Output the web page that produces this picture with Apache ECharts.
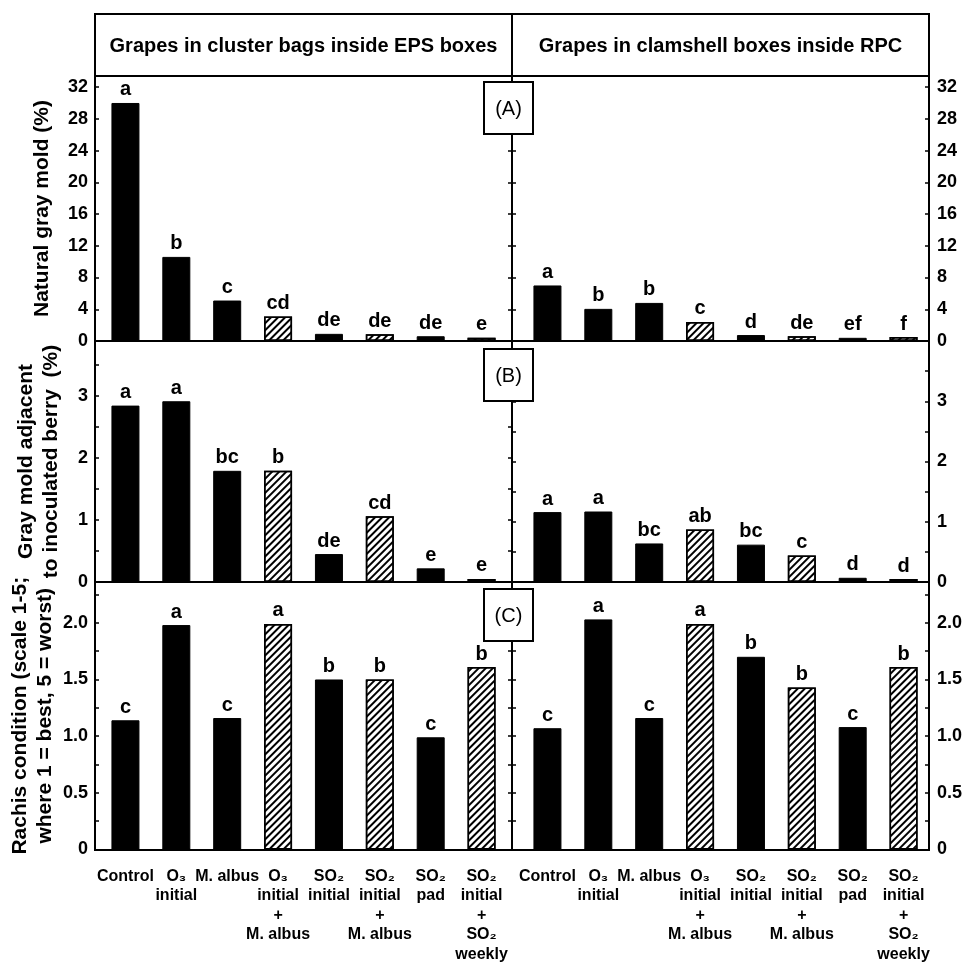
<!DOCTYPE html>
<html>
<head>
<meta charset="utf-8">
<script src="https://cdn.jsdelivr.net/npm/echarts@6/dist/echarts.min.js"></script>
<style>
html,body{margin:0;padding:0;background:#fff;}
#chart{width:969px;height:964px;}
</style>
</head>
<body>
<div id="chart"></div>
<script>
// ---------- data ----------
const categories = ['Control', 'O\u2083\ninitial', 'M. albus', 'O\u2083\ninitial\n+\nM. albus', 'SO\u2082\ninitial', 'SO\u2082\ninitial\n+\nM. albus', 'SO\u2082\npad', 'SO\u2082\ninitial\n+\nSO\u2082\nweekly'];
const hatched = [false, false, false, true, false, true, false, true];

const headerEPS = 'Grapes in cluster bags inside EPS boxes';
const headerRPC = 'Grapes in clamshell boxes inside RPC';
const panelTags = ['(A)', '(B)', '(C)'];

const moldEPS = [30.0, 10.6, 5.1, 3.1, 0.9, 0.85, 0.6, 0.4];
const moldRPC = [7.0, 4.05, 4.8, 2.4, 0.75, 0.6, 0.4, 0.5];
const moldEPSLetters = ['a', 'b', 'c', 'cd', 'de', 'de', 'de', 'e'];
const moldRPCLetters = ['a', 'b', 'b', 'c', 'd', 'de', 'ef', 'f'];

const adjEPS = [2.84, 2.91, 1.79, 1.79, 0.45, 1.06, 0.22, 0.05];
const adjRPC = [1.16, 1.17, 0.64, 0.87, 0.62, 0.44, 0.07, 0.05];
const adjEPSLetters = ['a', 'a', 'bc', 'b', 'de', 'cd', 'e', 'e'];
const adjRPCLetters = ['a', 'a', 'bc', 'ab', 'bc', 'c', 'd', 'd'];

const rachisEPS = [1.14, 1.98, 1.16, 1.99, 1.50, 1.50, 0.99, 1.61];
const rachisRPC = [1.07, 2.03, 1.16, 1.99, 1.70, 1.43, 1.08, 1.61];
const rachisEPSLetters = ['c', 'a', 'c', 'a', 'b', 'b', 'c', 'b'];
const rachisRPCLetters = ['c', 'a', 'c', 'a', 'b', 'b', 'c', 'b'];

const nameA = 'Natural gray mold (%)';
const nameB = 'Gray mold adjacent\nto inoculated berry  (%)';
const nameC = 'Rachis condition (scale 1-5;\nwhere 1 = best, 5 = worst)';

// ---------- layout ----------
const FONT = 'Liberation Sans, Arial, Helvetica, sans-serif';
const frameL = 95, frameM = 512, frameR = 929, frameT = 14, headB = 76;
const rows = [
  {top: 76, height: 265},
  {top: 341, height: 241},
  {top: 582, height: 268}
];
const leftGrid = {left: 100, width: 407};
const rightGrid = {left: 522, width: 407};

const scales = [
  {left: {max: 33.4, interval: 4}, right: {max: 33.4, interval: 4}, minor: false, fmt: v => String(v)},
  {left: {max: 3.88, interval: 1}, right: {max: 4, interval: 1}, minor: true, fmt: v => String(v)},
  {left: {max: 2.36, interval: 0.5}, right: {max: 2.36, interval: 0.5}, minor: true, fmt: v => v === 0 ? '0' : v.toFixed(1)}
];
const panelData = [
  {eps: moldEPS, rpc: moldRPC, epsL: moldEPSLetters, rpcL: moldRPCLetters, name: nameA, gap: 42, lh: 22},
  {eps: adjEPS, rpc: adjRPC, epsL: adjEPSLetters, rpcL: adjRPCLetters, name: nameB, gap: 32, lh: 24.5},
  {eps: rachisEPS, rpc: rachisRPC, epsL: rachisEPSLetters, rpcL: rachisRPCLetters, name: nameC, gap: 37, lh: 25.5}
];

const grid = [], xAxis = [], yAxis = [], series = [];

function yAx(gridIndex, sc, opts) {
  return Object.assign({
    type: 'value', gridIndex: gridIndex, min: 0, max: sc.max, interval: sc.interval,
    axisLine: {show: true, lineStyle: {color: '#000', width: 2}},
    axisTick: {show: true, inside: true, length: 4, lineStyle: {color: '#000', width: 1.5}},
    splitLine: {show: false},
    axisLabel: {show: false}
  }, opts);
}

function barData(values) {
  return values.map((v, i) => ({
    value: v,
    itemStyle: hatched[i] ? {
      color: '#fff', borderColor: '#000', borderWidth: 1.5,
      decal: {symbol: 'rect', symbolSize: 1, dashArrayX: [1, 0], dashArrayY: [2, 3], rotation: -Math.PI / 4, color: '#000'}
    } : {color: '#000', borderColor: '#000', borderWidth: 1}
  }));
}

rows.forEach((row, r) => {
  const sc = scales[r];
  const pd = panelData[r];
  const isBottom = r === rows.length - 1;
  const minorCfg = {show: sc.minor, splitNumber: 2, length: 4, lineStyle: {color: '#000', width: 1.5}};
  const labelCfg = {show: true, color: '#000', fontFamily: FONT, fontWeight: 'bold', fontSize: 18, showMaxLabel: false, formatter: sc.fmt};
  [leftGrid, rightGrid].forEach((g, side) => {
    const gi = grid.length;
    grid.push({left: g.left, top: row.top, width: g.width, height: row.height});
    xAxis.push({
      type: 'category', gridIndex: gi, data: categories, boundaryGap: true,
      axisLine: {show: true, lineStyle: {color: '#000', width: 2}},
      axisTick: {show: false},
      axisLabel: {
        show: isBottom, interval: 0, hideOverlap: false, color: '#000',
        fontFamily: FONT, fontWeight: 'bold', fontSize: 16, lineHeight: 19.5, margin: 17
      }
    });
    const s = side === 0 ? sc.left : sc.right;
    const yi = yAxis.length;
    if (side === 0) {
      yAxis.push(yAx(gi, s, {
        position: 'left', offset: 5, minorTick: minorCfg,
        axisLabel: Object.assign({}, labelCfg, {margin: 7}),
        name: pd.name, nameLocation: 'middle', nameRotate: 90, nameGap: pd.gap,
        nameTextStyle: {color: '#000', fontFamily: FONT, fontWeight: 'bold', fontSize: 21, lineHeight: pd.lh}
      }));
      yAxis.push(yAx(gi, s, {position: 'right', offset: 5, minorTick: minorCfg}));
    } else {
      yAxis.push(yAx(gi, s, {position: 'left', offset: 10, minorTick: minorCfg}));
      yAxis.push(yAx(gi, s, {
        position: 'right', offset: 0, minorTick: minorCfg,
        axisLabel: Object.assign({}, labelCfg, {margin: 8})
      }));
    }
    const letters = side === 0 ? pd.epsL : pd.rpcL;
    series.push({
      type: 'bar', xAxisIndex: gi, yAxisIndex: yi, barWidth: 28,
      data: barData(side === 0 ? pd.eps : pd.rpc),
      label: {
        show: true, position: 'top', distance: 3, color: '#000',
        fontFamily: FONT, fontWeight: 'bold', fontSize: 20,
        formatter: p => letters[p.dataIndex]
      },
      animation: false
    });
  });
});

const lineStyle = {stroke: '#000', lineWidth: 2};
const graphic = [
  {type: 'rect', shape: {x: frameL, y: frameT, width: frameR - frameL, height: rows[2].top + rows[2].height - frameT}, style: {fill: 'none', stroke: '#000', lineWidth: 2}, z: 50},
  {type: 'line', shape: {x1: frameL, y1: headB, x2: frameR, y2: headB}, style: lineStyle, z: 50},
  {type: 'line', shape: {x1: frameL, y1: rows[1].top, x2: frameR, y2: rows[1].top}, style: lineStyle, z: 50},
  {type: 'line', shape: {x1: frameL, y1: rows[2].top, x2: frameR, y2: rows[2].top}, style: lineStyle, z: 50},
  {type: 'line', shape: {x1: frameM, y1: frameT, x2: frameM, y2: rows[2].top + rows[2].height}, style: lineStyle, z: 50},
  {type: 'text', x: (frameL + frameM) / 2, y: 46, style: {text: headerEPS, fill: '#000', font: 'bold 20px ' + FONT, textAlign: 'center', textVerticalAlign: 'middle'}, z: 60},
  {type: 'text', x: (frameM + frameR) / 2, y: 46, style: {text: headerRPC, fill: '#000', font: 'bold 20px ' + FONT, textAlign: 'center', textVerticalAlign: 'middle'}, z: 60}
];
const tagOffsets = [6, 8, 7];
rows.forEach((row, r) => {
  const bx = frameM - 28, by = row.top + tagOffsets[r];
  graphic.push({type: 'rect', shape: {x: bx, y: by, width: 49, height: 52}, style: {fill: '#fff', stroke: '#000', lineWidth: 2}, z: 100});
  graphic.push({type: 'text', x: bx + 24.5, y: by + 27, style: {text: panelTags[r], fill: '#000', font: '20px ' + FONT, textAlign: 'center', textVerticalAlign: 'middle'}, z: 101});
});

const chart = echarts.init(document.getElementById('chart'), null, {renderer: 'canvas'});
chart.setOption({
  animation: false,
  backgroundColor: '#fff',
  grid: grid, xAxis: xAxis, yAxis: yAxis, series: series, graphic: graphic
});
</script>
</body>
</html>
